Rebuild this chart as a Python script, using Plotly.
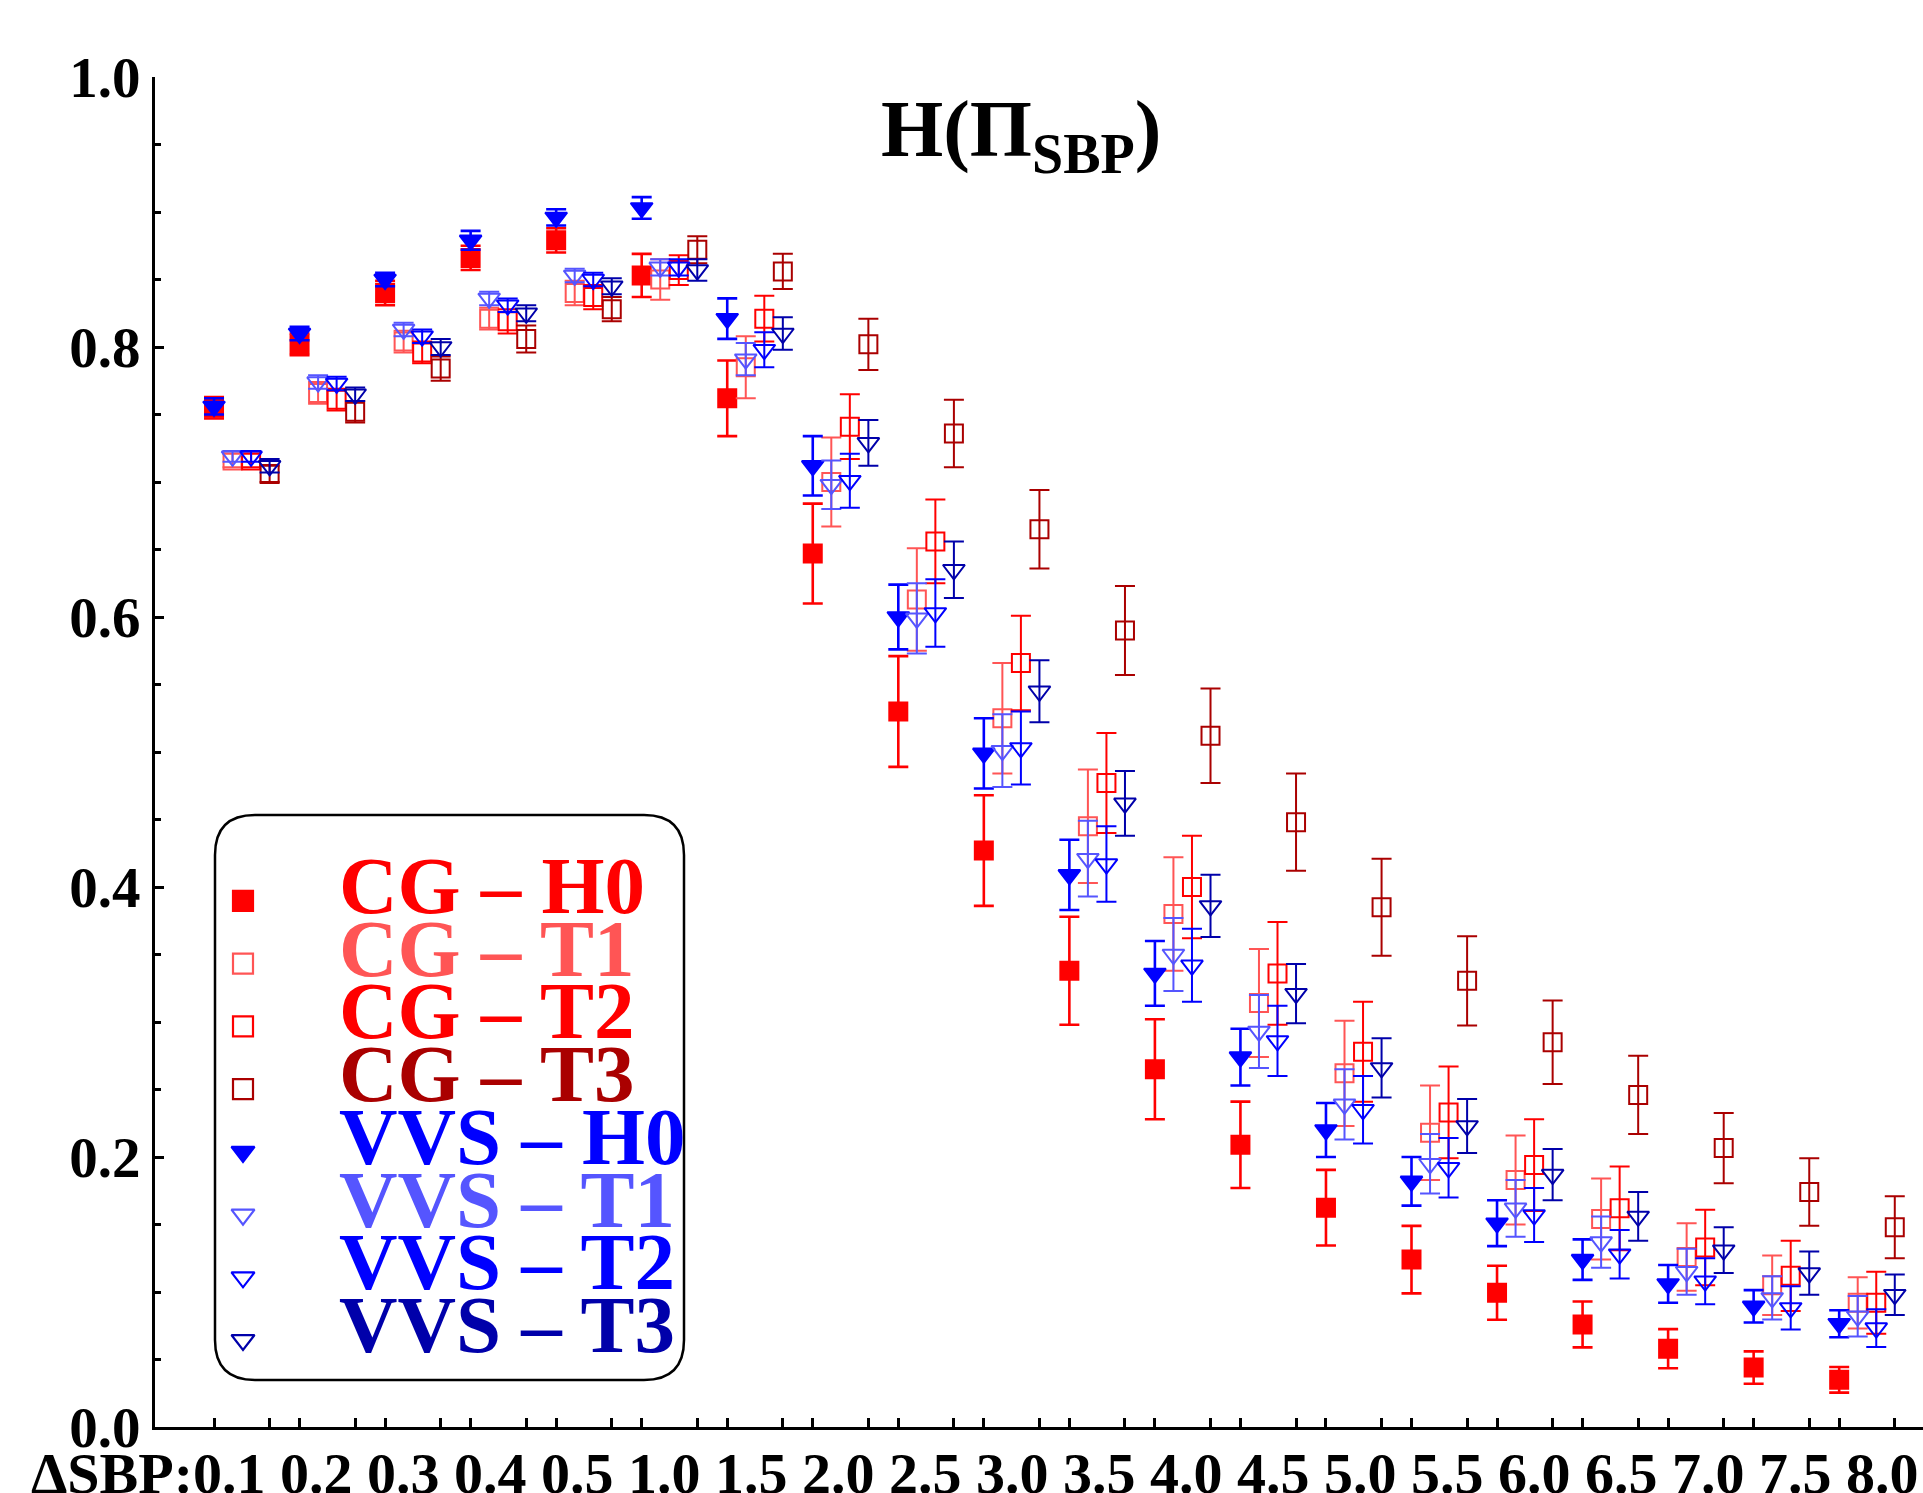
import plotly.graph_objects as go

# ---------------- data ----------------
groups = ["0.1", "0.2", "0.3", "0.4", "0.5", "1.0", "1.5", "2.0", "2.5", "3.0",
          "3.5", "4.0", "4.5", "5.0", "5.5", "6.0", "6.5", "7.0", "7.5", "8.0"]

series_names = ["CG – H0", "CG – T1", "CG – T2", "CG – T3",
                "VVS – H0", "VVS – T1", "VVS – T2", "VVS – T3"]

CG_H0 = [0.755, 0.802, 0.840, 0.866, 0.879, 0.853, 0.762, 0.647, 0.530, 0.427,
         0.338, 0.265, 0.209, 0.1625, 0.124, 0.0995, 0.076, 0.058, 0.044, 0.035]
CG_H0_err = [0.008, 0.008, 0.009, 0.009, 0.009, 0.016, 0.028, 0.037, 0.041, 0.041,
             0.040, 0.037, 0.032, 0.028, 0.025, 0.020, 0.017, 0.0145, 0.012, 0.0095]

CG_T1 = [0.716, 0.766, 0.804, 0.821, 0.840, 0.850, 0.785, 0.700, 0.613, 0.525,
         0.445, 0.380, 0.314, 0.262, 0.218, 0.183, 0.154, 0.126, 0.105, 0.092]
CG_T1_err = [0.005, 0.008, 0.008, 0.008, 0.009, 0.015, 0.023, 0.033, 0.038, 0.041,
             0.042, 0.042, 0.040, 0.039, 0.035, 0.033, 0.030, 0.025, 0.022, 0.019]

CG_T2 = [0.716, 0.761, 0.796, 0.819, 0.837, 0.857, 0.821, 0.741, 0.656, 0.566,
         0.477, 0.400, 0.336, 0.278, 0.233, 0.194, 0.162, 0.133, 0.112, 0.092]
CG_T2_err = [0.005, 0.008, 0.008, 0.009, 0.009, 0.011, 0.017, 0.024, 0.031, 0.035,
             0.037, 0.038, 0.038, 0.037, 0.034, 0.034, 0.031, 0.028, 0.026, 0.023]

CG_T3 = [0.706, 0.752, 0.784, 0.806, 0.828, 0.872, 0.856, 0.802, 0.736, 0.665,
         0.590, 0.512, 0.448, 0.385, 0.3305, 0.285, 0.246, 0.2066, 0.174, 0.148]
CG_T3_err = [0.006, 0.008, 0.009, 0.010, 0.009, 0.010, 0.013, 0.019, 0.025, 0.029,
             0.033, 0.035, 0.036, 0.036, 0.033, 0.031, 0.029, 0.026, 0.025, 0.023]

VVS_H0 = [0.756, 0.810, 0.850, 0.879, 0.896, 0.903, 0.821, 0.712, 0.600, 0.499,
          0.409, 0.336, 0.274, 0.220, 0.182, 0.151, 0.124, 0.106, 0.0894, 0.0765]
VVS_H0_err = [0.006, 0.005, 0.005, 0.007, 0.006, 0.008, 0.015, 0.022, 0.024, 0.026,
              0.026, 0.024, 0.021, 0.020, 0.018, 0.017, 0.015, 0.014, 0.012, 0.010]

VVS_T1 = [0.719, 0.774, 0.813, 0.836, 0.853, 0.859, 0.791, 0.698, 0.599, 0.501,
          0.421, 0.350, 0.293, 0.239, 0.195, 0.162, 0.137, 0.115, 0.0956, 0.082]
VVS_T1_err = [0.004, 0.005, 0.005, 0.005, 0.005, 0.006, 0.012, 0.018, 0.026, 0.027,
              0.028, 0.027, 0.027, 0.026, 0.022, 0.021, 0.019, 0.017, 0.016, 0.015]

VVS_T2 = [0.719, 0.773, 0.808, 0.831, 0.850, 0.859, 0.798, 0.701, 0.603, 0.503,
          0.417, 0.342, 0.286, 0.235, 0.192, 0.157, 0.128, 0.108, 0.0882, 0.0733]
VVS_T2_err = [0.004, 0.005, 0.005, 0.005, 0.005, 0.006, 0.013, 0.020, 0.025, 0.027,
              0.028, 0.027, 0.026, 0.025, 0.022, 0.020, 0.018, 0.017, 0.016, 0.014]

VVS_T3 = [0.712, 0.765, 0.800, 0.825, 0.845, 0.857, 0.810, 0.729, 0.635, 0.545,
          0.462, 0.386, 0.321, 0.266, 0.223, 0.187, 0.156, 0.131, 0.114, 0.098]
VVS_T3_err = [0.005, 0.005, 0.006, 0.006, 0.006, 0.008, 0.012, 0.017, 0.021, 0.023,
              0.024, 0.023, 0.022, 0.022, 0.020, 0.019, 0.018, 0.017, 0.016, 0.015]

y_tick_vals = [0.0, 0.2, 0.4, 0.6, 0.8, 1.0]
y_tick_text = ["0.0", "0.2", "0.4", "0.6", "0.8", "1.0"]
x_label_prefix = "ΔSBP:"

values = [CG_H0, CG_T1, CG_T2, CG_T3, VVS_H0, VVS_T1, VVS_T2, VVS_T3]
errors = [CG_H0_err, CG_T1_err, CG_T2_err, CG_T3_err,
          VVS_H0_err, VVS_T1_err, VVS_T2_err, VVS_T3_err]

# ---------------- styles ----------------
colors = ["#FF0000", "#FF5555", "#FF0000", "#AA0000",
          "#0000FF", "#5555FF", "#0000FF", "#0000AA"]
symbols = ["square", "square-open", "square-open", "square-open",
           "triangle-down", "triangle-down-open", "triangle-down-open", "triangle-down-open"]
sub_pos = [0, 1, 2, 3, 0, 1, 2, 3]
STEP = 0.2167

W, H = 1923, 1493
ML, MR, MT, MB = 155, 0, 77, 66
PW, PH = W - ML - MR, H - MT - MB
FONT = "Liberation Serif"


def px_x(px):
    return (px - ML) / PW


def px_y(py):
    return (H - MB - py) / PH


fig = go.Figure()

for s in range(8):
    xs = [i + sub_pos[s] * STEP for i in range(len(groups))]
    filled = sub_pos[s] == 0
    is_sq = symbols[s].startswith("square")
    fig.add_trace(go.Scatter(
        x=xs, y=values[s], mode="markers", name=series_names[s], showlegend=False,
        marker=dict(symbol=symbols[s], size=18 if is_sq else 19, color=colors[s],
                    opacity=1, line=dict(color=colors[s], width=2)),
        error_y=dict(type="data", array=errors[s], visible=True, color=colors[s],
                     thickness=2.6 if filled else 2, width=10),
        cliponaxis=False,
    ))

# ---------- custom legend (keys on an auxiliary categorical axis) ----------
fig.add_trace(go.Scatter(
    x=[28] * len(series_names), y=series_names, mode="markers", showlegend=False,
    xaxis="x2", yaxis="y2",
    marker=dict(symbol=symbols, size=20, color=colors, opacity=1,
                line=dict(color=colors, width=2.2)),
))

for s, name in enumerate(series_names):
    fig.add_annotation(
        x=122, y=name, xref="x2", yref="y2", text=name, showarrow=False,
        xanchor="left", yanchor="middle", yshift=15,
        font=dict(family=FONT, size=81, color=colors[s], weight="bold"),
    )

# legend rounded box
bx0, bx1, by0, by1, rad = 215, 684, 815, 1380, 40
X0, X1 = px_x(bx0), px_x(bx1)
Y0, Y1 = px_y(by1), px_y(by0)
rx, ry = rad / PW, rad / PH
path = (f"M {X0 + rx},{Y1} L {X1 - rx},{Y1} Q {X1},{Y1} {X1},{Y1 - ry} "
        f"L {X1},{Y0 + ry} Q {X1},{Y0} {X1 - rx},{Y0} "
        f"L {X0 + rx},{Y0} Q {X0},{Y0} {X0},{Y0 + ry} "
        f"L {X0},{Y1 - ry} Q {X0},{Y1} {X0 + rx},{Y1} Z")
fig.add_shape(type="path", path=path, xref="paper", yref="paper",
              line=dict(color="black", width=2.5), fillcolor="white", layer="below")

# ---------- title and x label string ----------
fig.add_annotation(
    x=px_x(1021), y=px_y(135), xref="paper", yref="paper",
    text="H(Π<sub>SBP</sub>)", showarrow=False, xanchor="center", yanchor="middle",
    font=dict(family=FONT, size=80, color="black", weight="bold"),
)

fig.add_annotation(
    x=px_x(975), y=px_y(1473), xref="paper", yref="paper",
    text=x_label_prefix + " ".join(groups), showarrow=False,
    xanchor="center", yanchor="middle",
    font=dict(family=FONT, size=58, color="black", weight="bold"),
)

# ---------- axes ----------
x_ticks = []
for i in range(len(groups)):
    x_ticks += [i, i + 3 * STEP]

leg_y_top, leg_y_bot = 869.6, 1371.4

fig.update_layout(
    width=W, height=H,
    margin=dict(l=ML, r=MR, t=MT, b=MB),
    paper_bgcolor="white", plot_bgcolor="rgba(0,0,0,0)",
    showlegend=False,
    xaxis=dict(range=[-0.69, 19.98], showline=True, linecolor="black", linewidth=3,
               ticks="inside", tickvals=x_ticks, ticklen=9, tickwidth=3, tickcolor="black",
               showticklabels=False, showgrid=False, zeroline=False),
    yaxis=dict(range=[0, 1], showline=True, linecolor="black", linewidth=3,
               ticks="inside", tickvals=y_tick_vals, ticktext=y_tick_text,
               ticklen=9, tickwidth=3, tickcolor="black",
               tickfont=dict(family=FONT, size=57, color="black", weight="bold"),
               minor=dict(dtick=0.05, ticks="inside", ticklen=6, tickwidth=2.5,
                          tickcolor="black"),
               showgrid=False, zeroline=False),
    xaxis2=dict(domain=[px_x(bx0), px_x(bx1)], range=[0, bx1 - bx0], anchor="y2",
                visible=False, fixedrange=True),
    yaxis2=dict(domain=[px_y(leg_y_bot), px_y(leg_y_top)], anchor="x2",
                type="category", categoryorder="array", categoryarray=series_names,
                range=[len(series_names) - 0.5, -0.5], visible=False, fixedrange=True),
)

fig.write_html("out.html", config={"displayModeBar": False},
               post_script="document.body.style.margin='0px';document.body.style.overflow='hidden';")
